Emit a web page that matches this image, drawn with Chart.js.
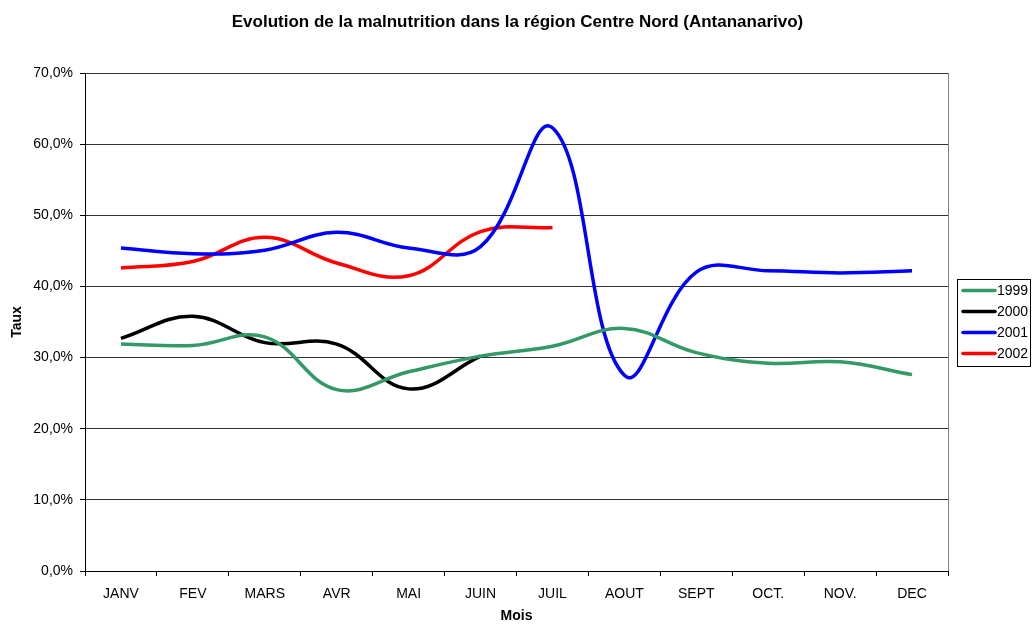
<!DOCTYPE html>
<html>
<head>
<meta charset="utf-8">
<title>Malnutrition Centre Nord</title>
<script src="https://cdn.jsdelivr.net/npm/chart.js@4.4.0/dist/chart.umd.min.js"></script>
<style>
  body { margin: 0; background: #fff; }
  canvas { display: block; }
</style>
</head>
<body>
<canvas id="chart" width="1035" height="626"></canvas>
<script>
// Months on the x axis
let months = ["JANV", "FEV", "MARS", "AVR", "MAI", "JUIN", "JUIL", "AOUT", "SEPT", "OCT.", "NOV.", "DEC"];

// Rates in percent (null = no data)
let rates1999 = [31.9, 31.7, 32.9, 25.5, 28.0, 30.2, 31.6, 34.1, 30.7, 29.2, 29.4, 27.6];
let rates2000 = [32.7, 35.8, 32.1, 31.9, 25.6, 30.2, null, null, null, null, null, null];
let rates2001 = [45.4, 44.6, 45.1, 47.6, 45.4, 45.6, 62.3, 27.5, 42.0, 42.2, 41.9, 42.2];
let rates2002 = [42.6, 43.5, 46.9, 43.3, 41.5, 47.7, 48.3, null, null, null, null, null];

let yearLabels = ["1999", "2000", "2001", "2002"];
let yearColors = ["#339966", "#000000", "#0000FF", "#FF0000"];

let chartTitle = 'Evolution de la malnutrition dans la région Centre Nord (Antananarivo)';
let fontFamily = "'Liberation Sans', Arial, sans-serif";

function makeDataset(i, values) {
  return {
    label: yearLabels[i],
    data: values,
    borderColor: yearColors[i],
    backgroundColor: yearColors[i],
    borderWidth: 3.5,
    tension: 0.4,
    pointRadius: 0,
    pointHoverRadius: 0,
    fill: false
  };
}

// Title centred on the page, boxed legend on the right, grey right edge of the plot
const pageExtras = {
  id: 'pageExtras',
  afterDraw(chart) {
    const ctx = chart.ctx;
    const area = chart.chartArea;
    ctx.save();

    ctx.fillStyle = '#000';
    ctx.font = 'bold 17px ' + fontFamily;
    ctx.textAlign = 'center';
    ctx.textBaseline = 'middle';
    ctx.fillText(chartTitle, chart.width / 2, 22);

    // right edge of the plot area
    ctx.strokeStyle = '#808080';
    ctx.lineWidth = 1;
    ctx.beginPath();
    ctx.moveTo(Math.round(area.right) + 0.5, area.top);
    ctx.lineTo(Math.round(area.right) + 0.5, area.bottom);
    ctx.stroke();

    // legend box
    let bx = 957.5, by = 279.5, bw = 73, bh = 87;
    ctx.fillStyle = '#fff';
    ctx.fillRect(bx, by, bw, bh);
    ctx.strokeStyle = '#000';
    ctx.strokeRect(bx, by, bw, bh);

    ctx.font = '14px ' + fontFamily;
    ctx.textBaseline = 'middle';
    ctx.textAlign = 'left';
    chart.data.datasets.forEach((ds, i) => {
      let y = 290.5 + i * 21;
      ctx.strokeStyle = ds.borderColor;
      ctx.lineWidth = 3.5;
      ctx.lineCap = 'round';
      ctx.beginPath();
      ctx.moveTo(963, y);
      ctx.lineTo(995, y);
      ctx.stroke();
      ctx.fillStyle = '#000';
      ctx.fillText(ds.label, 997, y + 0.5);
    });
    ctx.restore();
  }
};

let ctx = document.getElementById('chart').getContext('2d');

new Chart(ctx, {
  type: 'line',
  data: {
    labels: months,
    datasets: [
      makeDataset(0, rates1999),
      makeDataset(1, rates2000),
      makeDataset(2, rates2001),
      makeDataset(3, rates2002)
    ]
  },
  options: {
    responsive: false,
    animation: false,
    spanGaps: false,
    layout: { padding: { left: 0, right: 87, top: 73, bottom: 0 } },
    plugins: {
      legend: { display: false },
      tooltip: { enabled: false },
      title: { display: false }
    },
    scales: {
      x: {
        offset: true,
        grid: {
          offset: true,
          drawOnChartArea: false,
          drawTicks: true,
          tickLength: 5,
          color: '#000'
        },
        border: { color: '#000', width: 1 },
        ticks: {
          color: '#000',
          font: { family: fontFamily, size: 14 },
          padding: 10,
          maxRotation: 0,
          autoSkip: false
        },
        title: {
          display: true,
          text: 'Mois',
          color: '#000',
          font: { family: fontFamily, size: 14, weight: 'bold' },
          padding: { top: 0, bottom: 1 }
        },
        afterFit(scale) { scale.height = 55; }
      },
      y: {
        min: 0,
        max: 70,
        grid: {
          color: '#333',
          lineWidth: 1,
          drawTicks: true,
          tickLength: 5,
          tickColor: '#000'
        },
        border: { color: '#000', width: 1 },
        ticks: {
          stepSize: 10,
          color: '#000',
          font: { family: fontFamily, size: 14 },
          padding: 7,
          callback: v => v.toFixed(1).replace('.', ',') + '%'
        },
        title: {
          display: true,
          text: 'Taux',
          color: '#000',
          font: { family: fontFamily, size: 14, weight: 'bold' },
          padding: { top: 8.5, bottom: 0 }
        },
        afterFit(scale) { scale.width = 85; }
      }
    }
  },
  plugins: [pageExtras]
});
</script>
</body>
</html>
